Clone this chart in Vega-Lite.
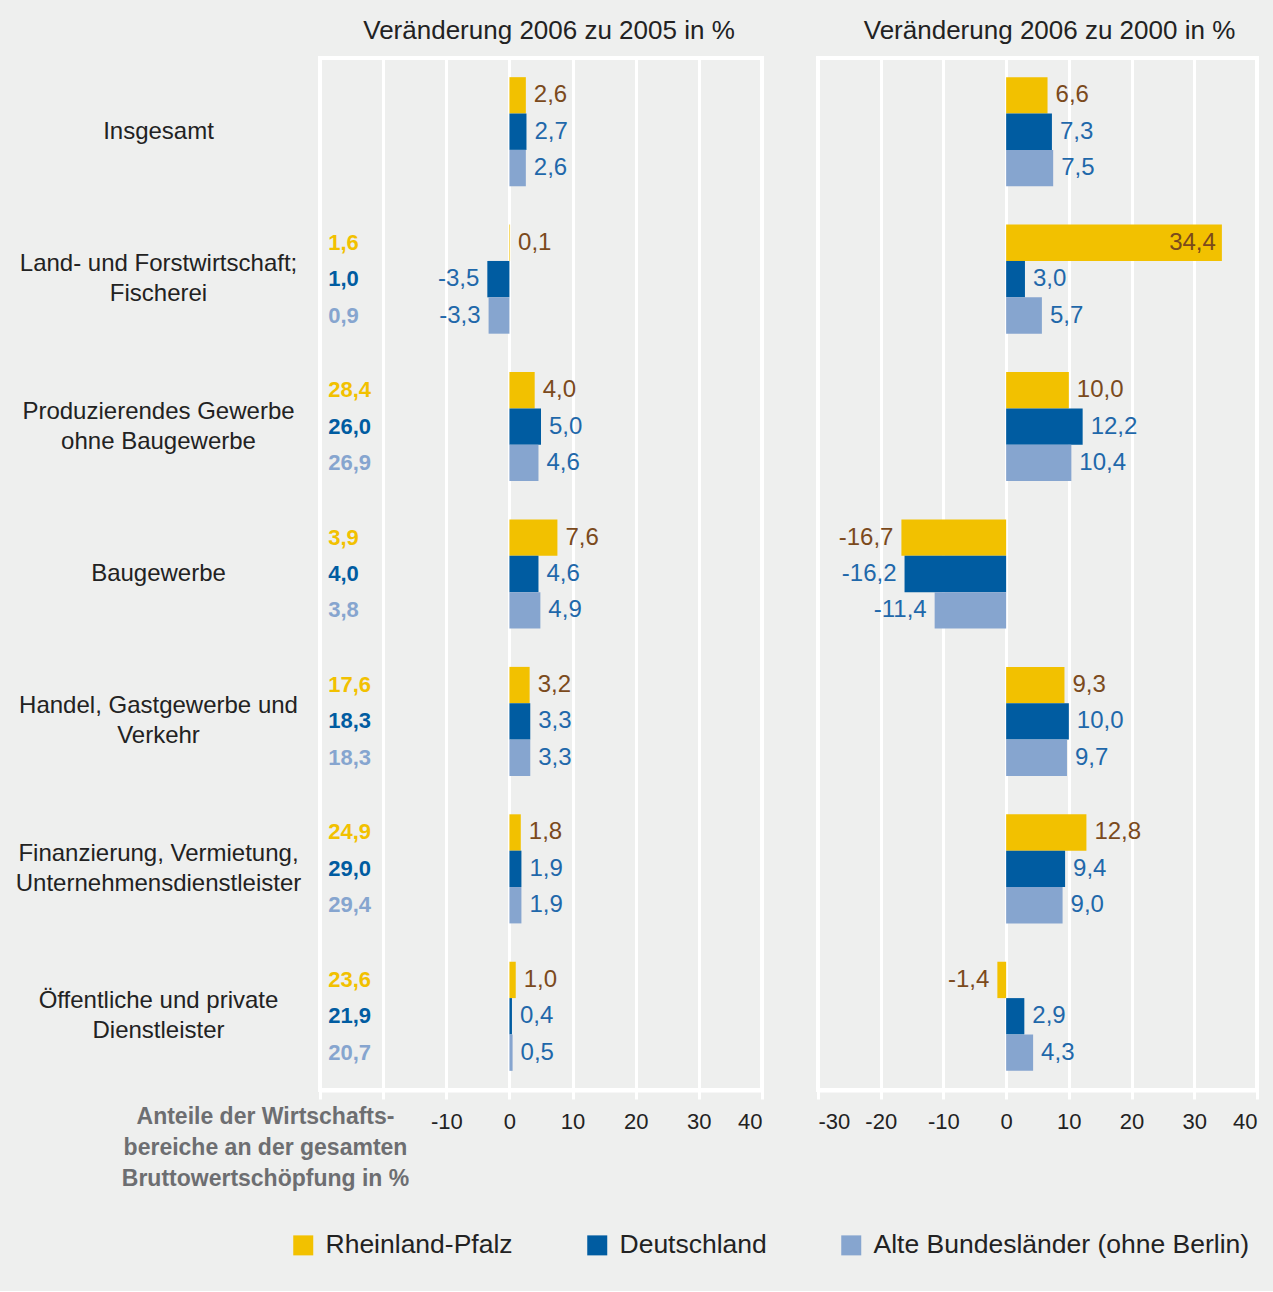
{
  "$schema": "https://vega.github.io/schema/vega-lite/v6.json",
  "background": "#eeefee",
  "padding": {"left": 13, "top": 16, "right": 14, "bottom": 32},
  "config": {
    "locale": {"number": {"decimal": ",", "thousands": ".", "grouping": [3], "currency": ["", " €"], "minus": "-"}},
    "font": "Liberation Sans",
    "view": {"stroke": "white", "strokeWidth": 4, "fill": "#eeefee"},
    "concat": {"spacing": 48},
    "bounds": "flush"
  },
  "datasets": {
    "d": [
      {"cat": "Insgesamt", "series": "Rheinland-Pfalz", "v1": 2.6, "v2": 6.6, "share": null},
      {"cat": "Insgesamt", "series": "Deutschland", "v1": 2.7, "v2": 7.3, "share": null},
      {"cat": "Insgesamt", "series": "Alte Bundesländer (ohne Berlin)", "v1": 2.6, "v2": 7.5, "share": null},
      {"cat": "Land- und Forstwirtschaft;|Fischerei", "series": "Rheinland-Pfalz", "v1": 0.1, "v2": 34.4, "share": 1.6},
      {"cat": "Land- und Forstwirtschaft;|Fischerei", "series": "Deutschland", "v1": -3.5, "v2": 3.0, "share": 1.0},
      {"cat": "Land- und Forstwirtschaft;|Fischerei", "series": "Alte Bundesländer (ohne Berlin)", "v1": -3.3, "v2": 5.7, "share": 0.9},
      {"cat": "Produzierendes Gewerbe|ohne Baugewerbe", "series": "Rheinland-Pfalz", "v1": 4.0, "v2": 10.0, "share": 28.4},
      {"cat": "Produzierendes Gewerbe|ohne Baugewerbe", "series": "Deutschland", "v1": 5.0, "v2": 12.2, "share": 26.0},
      {"cat": "Produzierendes Gewerbe|ohne Baugewerbe", "series": "Alte Bundesländer (ohne Berlin)", "v1": 4.6, "v2": 10.4, "share": 26.9},
      {"cat": "Baugewerbe", "series": "Rheinland-Pfalz", "v1": 7.6, "v2": -16.7, "share": 3.9},
      {"cat": "Baugewerbe", "series": "Deutschland", "v1": 4.6, "v2": -16.2, "share": 4.0},
      {"cat": "Baugewerbe", "series": "Alte Bundesländer (ohne Berlin)", "v1": 4.9, "v2": -11.4, "share": 3.8},
      {"cat": "Handel, Gastgewerbe und|Verkehr", "series": "Rheinland-Pfalz", "v1": 3.2, "v2": 9.3, "share": 17.6},
      {"cat": "Handel, Gastgewerbe und|Verkehr", "series": "Deutschland", "v1": 3.3, "v2": 10.0, "share": 18.3},
      {"cat": "Handel, Gastgewerbe und|Verkehr", "series": "Alte Bundesländer (ohne Berlin)", "v1": 3.3, "v2": 9.7, "share": 18.3},
      {"cat": "Finanzierung, Vermietung,|Unternehmensdienstleister", "series": "Rheinland-Pfalz", "v1": 1.8, "v2": 12.8, "share": 24.9},
      {"cat": "Finanzierung, Vermietung,|Unternehmensdienstleister", "series": "Deutschland", "v1": 1.9, "v2": 9.4, "share": 29.0},
      {"cat": "Finanzierung, Vermietung,|Unternehmensdienstleister", "series": "Alte Bundesländer (ohne Berlin)", "v1": 1.9, "v2": 9.0, "share": 29.4},
      {"cat": "Öffentliche und private|Dienstleister", "series": "Rheinland-Pfalz", "v1": 1.0, "v2": -1.4, "share": 23.6},
      {"cat": "Öffentliche und private|Dienstleister", "series": "Deutschland", "v1": 0.4, "v2": 2.9, "share": 21.9},
      {"cat": "Öffentliche und private|Dienstleister", "series": "Alte Bundesländer (ohne Berlin)", "v1": 0.5, "v2": 4.3, "share": 20.7}
    ]
  },
  "hconcat": [
    {
      "width": 442,
      "height": 1032,
      "title": {"text": "Veränderung 2006 zu 2005 in %", "fontSize": 26, "fontWeight": "normal", "color": "#222222", "offset": 14, "dx": 8},
      "data": {"name": "d"},
      "encoding": {
        "y": {"field": "cat", "type": "nominal", "sort": null,
          "scale": {"paddingInner": 0.26, "paddingOuter": 0.13},
          "axis": {"title": null, "domain": false, "ticks": false, "grid": false, "labelPadding": 162, "labelAlign": "center", "labelBaseline": "middle", "labelFontSize": 24, "labelColor": "#222222", "labelLineHeight": 30, "labelLimit": 400,
            "labelOffset": {"condition": {"test": "indexof(datum.value, '|') >= 0", "value": -15}, "value": 0},
            "labelExpr": "split(datum.label, '|')"}},
        "yOffset": {"field": "series", "type": "nominal", "sort": ["Rheinland-Pfalz", "Deutschland", "Alte Bundesländer (ohne Berlin)"], "scale": {"paddingInner": 0, "paddingOuter": 0}}
      },
      "layer": [
        {
          "mark": {"type": "bar"},
          "encoding": {
            "x": {"field": "v1", "type": "quantitative", "scale": {"domain": [-30, 40], "nice": false, "zero": false},
              "axis": {"values": [-30, -20, -10, 0, 10, 20, 30, 40], "labelExpr": "datum.value < -15 ? '' : datum.label",
                "grid": true, "gridColor": "white", "gridWidth": 3, "domainColor": "white", "domainWidth": 4,
                "tickColor": "white", "tickWidth": 3, "tickSize": 9, "labelFontSize": 22, "labelColor": "#222222", "labelPadding": 12,
                "title": ["Anteile der Wirtschafts-", "bereiche an der gesamten", "Bruttowertschöpfung in %"],
                "titleX": -55, "titleY": 15, "titleAlign": "center", "titleBaseline": "top", "titleAnchor": null,
                "titleFontSize": 23, "titleFontWeight": "bold", "titleColor": "#6d6e71", "titleLineHeight": 31}},
            "color": {"field": "series", "type": "nominal",
              "scale": {"domain": ["Rheinland-Pfalz", "Deutschland", "Alte Bundesländer (ohne Berlin)"], "range": ["#f2c100", "#005ca1", "#86a5cf"]},
              "legend": {"orient": "none", "legendX": -30, "legendY": 1174, "direction": "horizontal", "title": null, "symbolType": "square", "symbolSize": 400, "symbolStrokeWidth": 0, "labelFontSize": 26.5, "labelColor": "#222222", "labelLimit": 600, "columnPadding": 71, "labelOffset": 9}}
          }
        },
        {
          "transform": [{"filter": "datum.v1 >= 0"}],
          "mark": {"type": "text", "align": "left", "dx": 8, "fontSize": 24},
          "encoding": {
            "x": {"field": "v1", "type": "quantitative"},
            "text": {"field": "v1", "type": "quantitative", "format": ".1f"},
            "color": {"condition": {"test": "datum.series === 'Rheinland-Pfalz'", "value": "#7b4a1c"}, "value": "#1f68aa"}
          }
        },
        {
          "transform": [{"filter": "datum.v1 < 0"}],
          "mark": {"type": "text", "align": "right", "dx": -8, "fontSize": 24},
          "encoding": {
            "x": {"field": "v1", "type": "quantitative"},
            "text": {"field": "v1", "type": "quantitative", "format": ".1f"},
            "color": {"condition": {"test": "datum.series === 'Rheinland-Pfalz'", "value": "#7b4a1c"}, "value": "#1f68aa"}
          }
        },
        {
          "transform": [{"filter": "isValid(datum.share)"}],
          "mark": {"type": "text", "align": "left", "fontSize": 22, "fontWeight": "bold"},
          "encoding": {
            "x": {"datum": -28.7, "type": "quantitative"},
            "text": {"field": "share", "type": "quantitative", "format": ".1f"},
            "color": {"condition": [{"test": "datum.series === 'Rheinland-Pfalz'", "value": "#f2c100"}, {"test": "datum.series === 'Deutschland'", "value": "#005ca1"}], "value": "#86a5cf"}
          }
        }
      ]
    },
    {
      "width": 439,
      "height": 1032,
      "title": {"text": "Veränderung 2006 zu 2000 in %", "fontSize": 26, "fontWeight": "normal", "color": "#222222", "offset": 14, "dx": 12},
      "data": {"name": "d"},
      "encoding": {
        "y": {"field": "cat", "type": "nominal", "sort": null, "scale": {"paddingInner": 0.26, "paddingOuter": 0.13}, "axis": null},
        "yOffset": {"field": "series", "type": "nominal", "sort": ["Rheinland-Pfalz", "Deutschland", "Alte Bundesländer (ohne Berlin)"], "scale": {"paddingInner": 0, "paddingOuter": 0}}
      },
      "layer": [
        {
          "mark": {"type": "bar"},
          "encoding": {
            "x": {"field": "v2", "type": "quantitative", "scale": {"domain": [-30, 40], "nice": false, "zero": false},
              "axis": {"values": [-30, -20, -10, 0, 10, 20, 30, 40], "title": null,
                "grid": true, "gridColor": "white", "gridWidth": 3, "domainColor": "white", "domainWidth": 4,
                "tickColor": "white", "tickWidth": 3, "tickSize": 9, "labelFontSize": 22, "labelColor": "#222222", "labelPadding": 12}},
            "color": {"field": "series", "type": "nominal",
              "scale": {"domain": ["Rheinland-Pfalz", "Deutschland", "Alte Bundesländer (ohne Berlin)"], "range": ["#f2c100", "#005ca1", "#86a5cf"]},
              "legend": {"orient": "none", "legendX": -30, "legendY": 1174, "direction": "horizontal", "title": null, "symbolType": "square", "symbolSize": 400, "symbolStrokeWidth": 0, "labelFontSize": 26.5, "labelColor": "#222222", "labelLimit": 600, "columnPadding": 71, "labelOffset": 9}}
          }
        },
        {
          "transform": [{"filter": "datum.v2 >= 0 && datum.v2 < 30"}],
          "mark": {"type": "text", "align": "left", "dx": 8, "fontSize": 24},
          "encoding": {
            "x": {"field": "v2", "type": "quantitative"},
            "text": {"field": "v2", "type": "quantitative", "format": ".1f"},
            "color": {"condition": {"test": "datum.series === 'Rheinland-Pfalz'", "value": "#7b4a1c"}, "value": "#1f68aa"}
          }
        },
        {
          "transform": [{"filter": "datum.v2 >= 30"}],
          "mark": {"type": "text", "align": "right", "dx": -6, "fontSize": 24},
          "encoding": {
            "x": {"field": "v2", "type": "quantitative"},
            "text": {"field": "v2", "type": "quantitative", "format": ".1f"},
            "color": {"value": "#7b4a1c"}
          }
        },
        {
          "transform": [{"filter": "datum.v2 < 0"}],
          "mark": {"type": "text", "align": "right", "dx": -8, "fontSize": 24},
          "encoding": {
            "x": {"field": "v2", "type": "quantitative"},
            "text": {"field": "v2", "type": "quantitative", "format": ".1f"},
            "color": {"condition": {"test": "datum.series === 'Rheinland-Pfalz'", "value": "#7b4a1c"}, "value": "#1f68aa"}
          }
        }
      ]
    }
  ],
  "resolve": {"scale": {"color": "shared"}}
}
